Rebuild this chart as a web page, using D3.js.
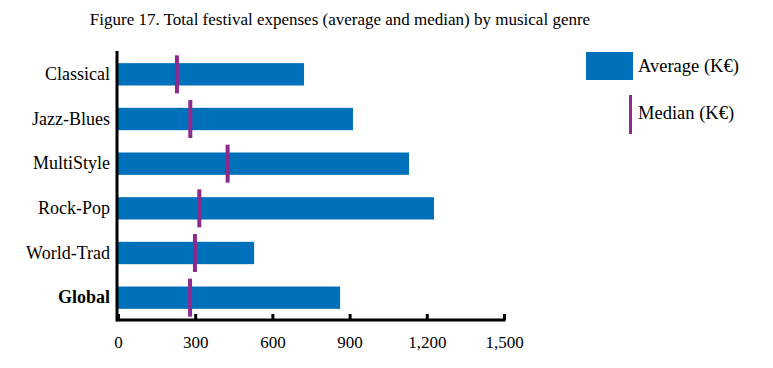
<!DOCTYPE html>
<html><head><meta charset="utf-8">
<script src="https://cdn.jsdelivr.net/npm/d3@7"></script>
<style>body{margin:0;background:#fff}svg{display:block}svg text{font-family:"Liberation Serif","DejaVu Serif",serif !important;fill:#000}</style>
</head><body><svg id="c" width="773" height="368"></svg>
<script>
const categories = ["Classical","Jazz-Blues","MultiStyle","Rock-Pop","World-Trad","Global"];
const averageValues = [723, 913, 1131, 1228, 529, 863];
const medianValues = [229, 281, 426, 316, 299, 280];
const tickValues = [0, 300, 600, 900, 1200, 1500];
const title = "Figure 17. Total festival expenses (average and median) by musical genre";
const legendLabels = ["Average (K€)", "Median (K€)"];

const barColor = "#0070BA", medColor = "#8E2A8E";
const SERIF = '"Liberation Serif", serif';
const svg = d3.select("#c");
const x = d3.scaleLinear().domain([0,1500]).range([118,504]);
const y = d3.scaleBand().domain(categories).range([52,320]).paddingInner(0.5).paddingOuter(0.25);

svg.append("text").attr("x",340).attr("y",25).attr("text-anchor","middle").style("font-family",SERIF).style("font-size","17px").text(title);

svg.selectAll("rect.bar").data(categories).enter().append("rect")
  .attr("x",x(0)).attr("y",d=>y(d)).attr("height",y.bandwidth())
  .attr("width",(d,i)=>x(averageValues[i])-x(0)).attr("fill",barColor);

svg.selectAll("rect.med").data(categories).enter().append("rect")
  .attr("x",(d,i)=>x(medianValues[i])-2).attr("width",4)
  .attr("y",d=>y(d)+y.bandwidth()/2-19).attr("height",38).attr("fill",medColor);

// axes
const gx = svg.append("g").attr("transform","translate(0,320)")
  .call(d3.axisBottom(x).tickValues(tickValues).tickSize(-6).tickFormat(d3.format(",")));
gx.attr("font-family",null);
gx.select(".domain").remove();
gx.selectAll(".tick line").attr("stroke","#000").attr("stroke-width",3);
gx.selectAll(".tick text").attr("y",16).style("font-size","17px").style("font-family",SERIF);
svg.append("line").attr("x1",116.5).attr("x2",505.5).attr("y1",320).attr("y2",320).attr("stroke","#000").attr("stroke-width",3);

const gy = svg.append("g").attr("transform","translate(118,0)")
  .call(d3.axisLeft(y).tickSize(0).tickPadding(8));
gy.attr("font-family",null);
gy.select(".domain").remove();
gy.selectAll(".tick text").style("font-size","18px").style("font-family",SERIF)
  .style("font-weight",d=>d==="Global"?"bold":"normal");
svg.append("line").attr("x1",117).attr("x2",117).attr("y1",51).attr("y2",321.5).attr("stroke","#000").attr("stroke-width",3);

// legend
svg.append("rect").attr("x",586).attr("y",52).attr("width",47).attr("height",28).attr("fill",barColor);
svg.append("text").attr("x",638).attr("y",72).style("font-family",SERIF).style("font-size","18.5px").text(legendLabels[0]);
svg.append("rect").attr("x",629).attr("y",95).attr("width",3).attr("height",39).attr("fill",medColor);
svg.append("text").attr("x",638).attr("y",119).style("font-family",SERIF).style("font-size","18.5px").text(legendLabels[1]);
</script></body></html>
